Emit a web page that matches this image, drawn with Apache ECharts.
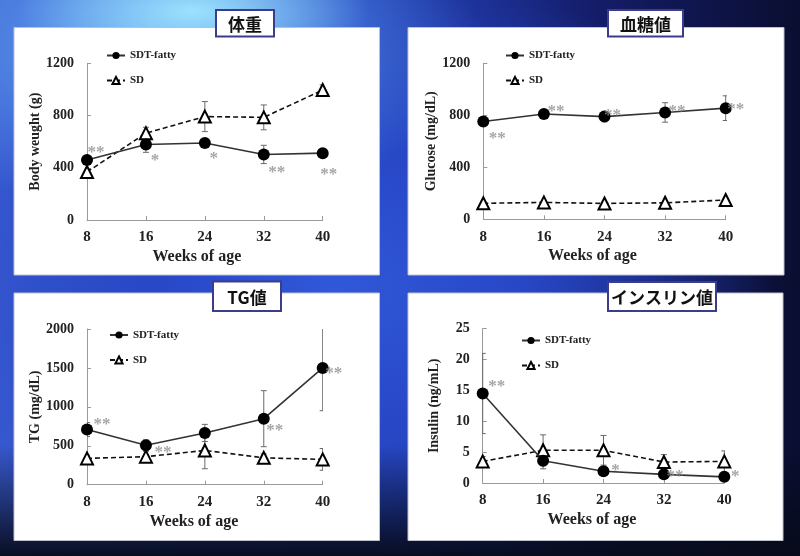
<!DOCTYPE html>
<html><head><meta charset="utf-8">
<script src="https://cdn.jsdelivr.net/npm/echarts@6/dist/echarts.min.js"></script>
<style>
html,body{margin:0;padding:0;width:800px;height:556px;overflow:hidden;}
#bg{position:absolute;left:0;top:0;width:800px;height:556px;
background:
 radial-gradient(ellipse 22% 12% at 24% 2%, rgba(160,230,255,0.95), rgba(140,210,255,0) 100%),
 radial-gradient(ellipse 40% 30% at 20% 8%, rgba(100,170,245,0.9), rgba(100,170,245,0) 100%),
 linear-gradient(to bottom, rgba(0,0,0,0) 80%, rgba(6,10,24,0.95) 100%),
 radial-gradient(ellipse 55% 60% at 42% 52%, #3058d8 0%, #2848c8 40%, rgba(24,36,130,0) 100%),
 linear-gradient(to right, #3a5cd0 0%, #2240b8 45%, #141c68 75%, #0a0e30 100%);}
#chart{position:absolute;left:0;top:0;width:800px;height:556px;}
</style></head><body><div id="bg"></div><div id="chart"></div>
<script>
// ---- data ----
const weeks = [8, 16, 24, 32, 40];

const bwFatty    = [460, 578, 590, 502, 512];
const bwFattyErr = [20, 60, 25, 70, 25];
const bwSD       = [368, 665, 792, 786, 995];
const bwSDErr    = [20, 45, 115, 95, 40];
const bwStars    = ['**', '*', '*', '**', '**'];

const gluFatty    = [752, 810, 790, 822, 855];
const gluFattyErr = [25, 25, 40, 75, 95];
const gluSD       = [123, 130, 122, 127, 148];
const gluSDErr    = [10, 10, 10, 10, 15];
const gluStars    = ['**', '**', '**', '**', '**'];

const tgFatty    = [708, 506, 665, 848, 1500];
const tgFattyErr = [90, 70, 110, 360, 550];
const tgSD       = [338, 360, 440, 345, 325];
const tgSDErr    = [40, 70, 235, 50, 140];
const tgStars    = ['**', '**', '', '**', '**'];

const insFatty    = [14.5, 3.6, 1.9, 1.4, 1.0];
const insFattyErr = [6.5, 1.3, 0.5, 0.4, 0.3];
const insSD       = [3.5, 5.3, 5.3, 3.4, 3.5];
const insSDErr    = [0.8, 2.5, 2.4, 1.2, 1.7];
const insStars    = ['**', '', '*', '**', '*'];

const titles  = ['体重', '血糖値', 'TG値', 'インスリン値'];
const yNames  = ['Body weught (g)', 'Glucose (mg/dL)', 'TG (mg/dL)', 'Insulin (ng/mL)'];
const xName   = 'Weeks of age';
const seriesNames = ['SDT-fatty', 'SD'];
const yMax      = [1200, 1200, 2000, 25];
const yInterval = [400, 400, 500, 5];

// ---- layout (positions/styles) ----
const panelBoxes = [[14, 27.5, 365.5, 247.5], [408, 27.5, 376, 247.5], [14, 293, 365.5, 247.5], [408, 293, 375, 247.5]];
const titleBoxes = [[216, 10, 58, 26.5], [608, 10, 75, 26.5], [213, 281.5, 68, 29.5], [608, 282, 108, 29]];
const grids = [
  {left: 87, top: 63.3, width: 235.7, height: 156.7},
  {left: 483.3, top: 63.3, width: 242.4, height: 156},
  {left: 87, top: 329, width: 235.7, height: 155.7},
  {left: 482.7, top: 328.7, width: 241.6, height: 154.3}
];
const legendPos = [[106, 49], [505, 49], [109, 328.5], [521, 334]];
const yNameGap = [40, 42, 40, 41];
const xNamePad = [16, 24, 22, 23];
const starOffsets = [
  [[9, -9], [9, 14], [9, 14], [13, 16], [6, 19]],
  [[14, 15], [12, -4], [8, -3], [12, -3], [10, -1]],
  [[15, -7], [17, 5], [0, 0], [11, 10], [11, 4]],
  [[14, -9], [0, 0], [12, -3], [11, 0], [11, -2]]
];

const panels = [
  [bwFatty, bwFattyErr, bwSD, bwSDErr, bwStars],
  [gluFatty, gluFattyErr, gluSD, gluSDErr, gluStars],
  [tgFatty, tgFattyErr, tgSD, tgSDErr, tgStars],
  [insFatty, insFattyErr, insSD, insSDErr, insStars]
];

const serif = '"Liberation Serif", "Times New Roman", serif';
const axisGray = '#9a9a9a';

const xAxes = [], yAxes = [], series = [], legends = [], graphics = [];

panels.forEach((p, i) => {
  const [fatty, fattyErr, sd, sdErr, stars] = p;
  xAxes.push({
    type: 'value', gridIndex: i, min: 8, max: 40, interval: 8,
    axisLine: {lineStyle: {color: axisGray, width: 1}},
    axisTick: {inside: true, length: 4, lineStyle: {color: axisGray}},
    splitLine: {show: false},
    axisLabel: {margin: 10, fontSize: 15, fontFamily: serif, fontWeight: 'bold', color: '#222', formatter: v => String(v)},
    name: xName, nameLocation: 'middle', nameGap: 29,
    nameTextStyle: {fontSize: 16, fontFamily: serif, fontWeight: 'bold', color: '#222', padding: [0, xNamePad[i], 0, 0]}
  });
  yAxes.push({
    type: 'value', gridIndex: i, min: 0, max: yMax[i], interval: yInterval[i],
    axisLine: {show: true, lineStyle: {color: axisGray, width: 1}},
    axisTick: {show: true, inside: true, length: 4, lineStyle: {color: axisGray}},
    splitLine: {show: false},
    axisLabel: {margin: 13, fontSize: 14, fontFamily: serif, fontWeight: 'bold', color: '#222', formatter: v => String(v)},
    name: yNames[i], nameLocation: 'middle', nameGap: yNameGap[i], nameRotate: 90,
    nameTextStyle: {fontSize: 14, fontFamily: serif, fontWeight: 'bold', color: '#222'}
  });
  const errData = [];
  weeks.forEach((w, k) => { errData.push([w, fatty[k], fattyErr[k]]); errData.push([w, sd[k], sdErr[k]]); });
  series.push({
    type: 'custom', xAxisIndex: i, yAxisIndex: i, data: errData, z: 2, clip: true, silent: true,
    encode: {x: 0, y: 1},
    renderItem: (params, api) => {
      const x = api.value(0), y = api.value(1), e = api.value(2);
      const t = api.coord([x, y + e]), b = api.coord([x, y - e]);
      const c = 3, st = {stroke: '#6a6a6a', lineWidth: 1};
      return {type: 'group', children: [
        {type: 'line', shape: {x1: t[0], y1: t[1], x2: b[0], y2: b[1]}, style: st},
        {type: 'line', shape: {x1: t[0] - c, y1: t[1], x2: t[0] + c, y2: t[1]}, style: st},
        {type: 'line', shape: {x1: b[0] - c, y1: b[1], x2: b[0] + c, y2: b[1]}, style: st}
      ]};
    }
  });
  series.push({
    name: seriesNames[1], type: 'line', xAxisIndex: i, yAxisIndex: i, z: 3,
    data: weeks.map((w, k) => [w, sd[k]]),
    symbol: 'triangle', symbolSize: 12, showAllSymbol: true,
    lineStyle: {color: '#111', width: 1.6, type: [5, 3]},
    itemStyle: {color: '#fff', borderColor: '#000', borderWidth: 2},
    emphasis: {disabled: true}
  });
  series.push({
    name: seriesNames[0], type: 'line', xAxisIndex: i, yAxisIndex: i, z: 4,
    data: weeks.map((w, k) => [w, fatty[k]]),
    symbol: 'circle', symbolSize: 12, showAllSymbol: true,
    lineStyle: {color: '#333', width: 1.6},
    itemStyle: {color: '#000'},
    emphasis: {disabled: true}
  });
  const starData = [];
  weeks.forEach((w, k) => {
    if (stars[k]) starData.push({value: [w, fatty[k]], label: {formatter: stars[k], offset: [starOffsets[i][k][0], starOffsets[i][k][1] + 2]}});
  });
  series.push({
    type: 'scatter', xAxisIndex: i, yAxisIndex: i, z: 5, silent: true,
    symbol: 'circle', symbolSize: 1, itemStyle: {color: 'rgba(0,0,0,0)'},
    data: starData,
    label: {show: true, position: 'inside', fontSize: 17, fontFamily: serif, fontWeight: 'bold', color: '#8e8e8e'}
  });
  legends.push({
    data: seriesNames, orient: 'vertical', left: legendPos[i][0], top: legendPos[i][1],
    padding: 0, itemGap: 12, itemWidth: 18, itemHeight: 9, selectedMode: false,
    textStyle: {fontSize: 11, fontFamily: serif, fontWeight: 'bold', color: '#222', lineHeight: 13}
  });
  const pb = panelBoxes[i], tb = titleBoxes[i];
  graphics.push({type: 'rect', z: -10, shape: {x: pb[0], y: pb[1], width: pb[2], height: pb[3]},
    style: {fill: '#fff', stroke: '#c0c0cc', lineWidth: 1}});
  graphics.push({type: 'rect', z: -9, shape: {x: tb[0], y: tb[1], width: tb[2], height: tb[3]},
    style: {fill: '#fff', stroke: '#3c3c8c', lineWidth: 2}});
  graphics.push({type: 'text', z: -8, style: {text: titles[i], x: tb[0] + tb[2] / 2, y: tb[1] + tb[3] / 2 + 1,
    align: 'center', verticalAlign: 'middle', font: 'bold 17px "Noto Sans CJK JP", sans-serif', fill: '#111'}});
});

const chart = echarts.init(document.getElementById('chart'), null, {renderer: 'canvas'});
chart.setOption({
  animation: false,
  backgroundColor: 'transparent',
  grid: grids,
  xAxis: xAxes,
  yAxis: yAxes,
  legend: legends,
  graphic: {elements: graphics},
  series: series
});
</script>
</body></html>
